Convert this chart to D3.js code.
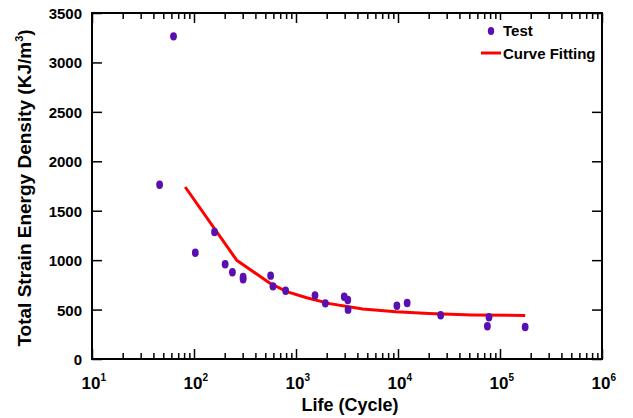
<!DOCTYPE html>
<html>
<head>
<meta charset="utf-8">
<script src="https://cdn.jsdelivr.net/npm/d3@7"></script>
<style>
  body { margin: 0; background: #fff; }
  svg { display: block; font-family: "Liberation Sans", Arial, sans-serif; font-weight: bold; }
</style>
</head>
<body>
<div id="chart"></div>
<script>
// test points (life in cycles, energy in KJ/m^3)
const testLife = [46, 63, 103, 159, 202, 238, 303, 303, 564, 594, 791, 1535, 1940, 2970, 3220, 3240, 9750, 12300, 26200, 75200, 78000, 176500];
const testEnergy = [1763, 3264, 1075, 1285, 958, 877, 830, 806, 843, 735, 691, 644, 563, 630, 597, 499, 539, 566, 442, 331, 422, 324];

// fitted curve
const fitLife = [82, 262, 556, 811, 1274, 2140, 4510, 9550, 20100, 53200, 176500];
const fitEnergy = [1740, 1000, 766, 681, 620, 560, 505, 478, 460, 446, 440];

const yTicks = [0, 500, 1000, 1500, 2000, 2500, 3000, 3500];
const xDecades = [1, 2, 3, 4, 5, 6];

const W = 633, H = 418;
const pLeft = 92, pRight = 602, pTop = 13, pBottom = 359;

const x = d3.scaleLog().domain([10, 1e6]).range([pLeft, pRight]);
const y = d3.scaleLinear().domain([0, 3500]).range([pBottom, pTop]);

const svg = d3.select("#chart").append("svg")
  .attr("width", W)
  .attr("height", H);

const majorX = xDecades.map(e => Math.pow(10, e));
const minorX = [];
xDecades.slice(0, -1).forEach(e => {
  for (let k = 2; k <= 9; k++) minorX.push(k * Math.pow(10, e));
});

function tickAxis(axis, t) {
  const g = svg.append("g").attr("transform", t).call(axis);
  g.select(".domain").remove();
  g.selectAll(".tick line").attr("stroke", "#000").attr("stroke-width", 1.5);
  g.selectAll(".tick text").remove();
  return g;
}

// inward ticks on all four sides
tickAxis(d3.axisBottom(x).tickValues(minorX).tickSize(-6), `translate(0,${pBottom})`);
tickAxis(d3.axisBottom(x).tickValues(majorX).tickSize(-10), `translate(0,${pBottom})`);
tickAxis(d3.axisTop(x).tickValues(minorX).tickSize(-6), `translate(0,${pTop})`);
tickAxis(d3.axisTop(x).tickValues(majorX).tickSize(-10), `translate(0,${pTop})`);
tickAxis(d3.axisLeft(y).tickValues(yTicks).tickSize(-10), `translate(${pLeft},0)`);
tickAxis(d3.axisRight(y).tickValues(yTicks).tickSize(-10), `translate(${pRight},0)`);

// frame
svg.append("rect")
  .attr("x", pLeft).attr("y", pTop)
  .attr("width", pRight - pLeft).attr("height", pBottom - pTop)
  .attr("fill", "none").attr("stroke", "#000").attr("stroke-width", 2);

// y tick labels
svg.selectAll(".ylab")
  .data(yTicks)
  .enter().append("text")
  .attr("x", 82)
  .attr("y", d => y(d) + 6)
  .attr("text-anchor", "end")
  .attr("font-size", "15px")
  .text(d => d);

// x tick labels 10^n
const xl = svg.selectAll(".xlab")
  .data(xDecades)
  .enter().append("g");
xl.append("text")
  .attr("x", d => x(Math.pow(10, d)) - 1)
  .attr("y", 389)
  .attr("text-anchor", "middle")
  .attr("font-size", "17px")
  .text("10");
xl.append("text")
  .attr("x", d => x(Math.pow(10, d)) + 8.5)
  .attr("y", 381)
  .attr("font-size", "10px")
  .text(d => d);

// axis titles
svg.append("text")
  .attr("x", 350)
  .attr("y", 411)
  .attr("text-anchor", "middle")
  .attr("font-size", "18px")
  .text("Life (Cycle)");

const yt = svg.append("text")
  .attr("transform", "translate(31,188) rotate(-90)")
  .attr("text-anchor", "middle")
  .attr("font-size", "19px");
yt.append("tspan").text("Total Strain Energy Density (KJ/m");
yt.append("tspan").attr("font-size", "11px").attr("dy", -8).text("3");
yt.append("tspan").attr("dy", 8).text(")");

// fitted curve
const fit = fitLife.map((d, i) => ({ life: d, e: fitEnergy[i] }));
const line = d3.line()
  .x(d => x(d.life))
  .y(d => y(d.e));

svg.append("path")
  .datum(fit)
  .attr("fill", "none")
  .attr("stroke", "#ff0000")
  .attr("stroke-width", 3)
  .attr("stroke-linejoin", "round")
  .attr("d", line);

// test points
const pts = testLife.map((d, i) => ({ life: d, e: testEnergy[i] }));
svg.selectAll(".pt")
  .data(pts)
  .enter().append("ellipse")
  .attr("cx", d => x(d.life))
  .attr("cy", d => y(d.e))
  .attr("rx", 3.4)
  .attr("ry", 4.2)
  .attr("fill", "#5a0fb0");

// legend
const lg = svg.append("g");
lg.append("rect")
  .attr("x", 470).attr("y", 20)
  .attr("width", 131).attr("height", 46)
  .attr("fill", "#fff");
lg.append("ellipse")
  .attr("cx", 491).attr("cy", 31)
  .attr("rx", 3.2).attr("ry", 4)
  .attr("fill", "#5a0fb0");
lg.append("text")
  .attr("x", 503).attr("y", 36)
  .attr("font-size", "15px")
  .text("Test");
lg.append("line")
  .attr("x1", 481).attr("x2", 501)
  .attr("y1", 53).attr("y2", 53)
  .attr("stroke", "#ff0000").attr("stroke-width", 3);
lg.append("text")
  .attr("x", 503).attr("y", 59)
  .attr("font-size", "15px")
  .text("Curve Fitting");
</script>
</body>
</html>
